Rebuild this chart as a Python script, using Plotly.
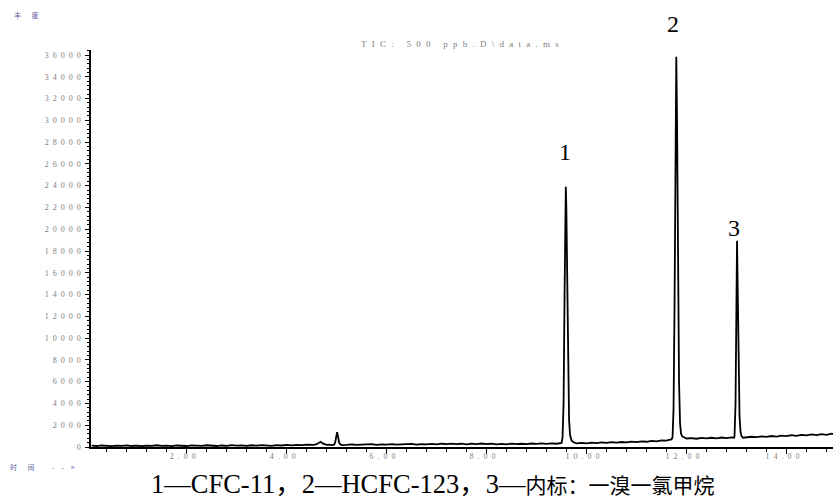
import plotly.graph_objects as go

# ---- data (time in min, abundance) ----
base_a_t = [0.1, 0.2, 0.3, 0.4, 0.5, 0.6, 0.7, 0.8, 0.9, 1.0, 1.1, 1.2, 1.3, 1.4, 1.5,
            1.6, 1.7, 1.8, 1.9, 2.0, 2.1, 2.2, 2.3, 2.4, 2.5, 2.6, 2.7, 2.8, 2.9, 3.0,
            3.1, 3.2, 3.3, 3.4, 3.5, 3.6, 3.7, 3.8, 3.9, 4.0, 4.1, 4.2, 4.3, 4.4, 4.5]
base_a_y = [120, 90, 140, 110, 80, 130, 100, 150, 90, 120, 70, 130, 110, 160, 100,
            120, 80, 140, 110, 90, 150, 120, 100, 160, 130, 90, 140, 110, 170, 120,
            150, 100, 160, 130, 180, 140, 110, 170, 140, 190, 150, 200, 170, 220, 180]

small_t = [4.55, 4.6, 4.65, 4.68, 4.72, 4.76, 4.8, 4.85, 4.9, 4.95, 4.97, 4.99, 5.01,
           5.03, 5.05, 5.08, 5.12]
small_y = [200, 260, 420, 480, 330, 230, 190, 210, 180, 220, 400, 900, 1350,
           900, 380, 220, 180]

base_b_t = [5.2, 5.3, 5.4, 5.5, 5.6, 5.7, 5.8, 5.9, 6.0, 6.1, 6.2, 6.3, 6.4, 6.5, 6.6,
            6.7, 6.8, 6.9, 7.0, 7.1, 7.2, 7.3, 7.4, 7.5, 7.6, 7.7, 7.8, 7.9, 8.0, 8.1,
            8.2, 8.3, 8.4, 8.5, 8.6, 8.7, 8.8, 8.9, 9.0, 9.1, 9.2, 9.3, 9.4, 9.45]
base_b_y = [200, 240, 190, 230, 210, 260, 200, 250, 220, 270, 210, 250, 230, 280, 220,
            270, 240, 290, 250, 300, 260, 310, 270, 300, 250, 310, 270, 320, 260, 300,
            240, 290, 250, 310, 270, 300, 260, 320, 280, 330, 290, 340, 300, 330]

peak1_t = [9.5, 9.52, 9.54, 9.56, 9.575, 9.585, 9.595, 9.61, 9.63, 9.65, 9.67, 9.7, 9.73]
peak1_y = [380, 900, 4000, 14000, 22500, 23900, 22000, 15000, 7000, 2500, 1100, 600, 450]

base_c_t = [9.76, 9.8, 9.9, 10.0, 10.1, 10.2, 10.3, 10.4, 10.5, 10.6, 10.7, 10.8, 10.9,
            11.0, 11.1, 11.2, 11.3, 11.4, 11.5, 11.6, 11.65, 11.7]
base_c_y = [380, 330, 380, 340, 400, 360, 420, 380, 440, 400, 460, 420, 490,
            450, 520, 480, 560, 520, 600, 580, 650, 700]

peak2_t = [11.72, 11.74, 11.76, 11.78, 11.795, 11.81, 11.83, 11.85, 11.87, 11.89, 11.92]
peak2_y = [900, 3500, 13000, 28000, 35850, 30000, 16000, 6000, 2200, 1200, 950]

base_d_t = [11.95, 12.0, 12.1, 12.2, 12.3, 12.4, 12.5, 12.6, 12.7, 12.8, 12.9, 12.95]
base_d_y = [900, 780, 820, 760, 830, 790, 850, 800, 870, 820, 880, 850]

peak3_t = [12.96, 12.98, 13.0, 13.01, 13.025, 13.04, 13.06, 13.08, 13.1, 13.13]
peak3_y = [1000, 4000, 14000, 18950, 14000, 7000, 2800, 1400, 1000, 850]

base_e_t = [13.2, 13.3, 13.4, 13.5, 13.6, 13.7, 13.8, 13.9, 14.0, 14.1, 14.2, 14.3,
            14.4, 14.5, 14.6, 14.7, 14.8, 14.9, 14.95]
base_e_y = [880, 940, 900, 980, 930, 1010, 960, 1050, 1000, 1090, 1020, 1120,
            1060, 1150, 1090, 1180, 1120, 1230, 1180]

x_tick_vals = [2, 4, 6, 8, 10, 12, 14]
x_tick_labels = ["2.00", "4.00", "6.00", "8.00", "10.00", "12.00", "14.00"]
y_tick_vals = [0, 2000, 4000, 6000, 8000, 10000, 12000, 14000, 16000, 18000, 20000,
               22000, 24000, 26000, 28000, 30000, 32000, 34000, 36000]

peak_labels = ["1", "2", "3"]
peak_label_t = [9.57, 11.73, 12.95]
peak_label_y = [27090, 38850, 20110]

title_raw = "TIC: 500 ppb.D\\data.ms"
y_name = ["丰", "度"]
x_name = ["时", "间", "-", "-", ">"]
caption_latin = "1—CFC-11，2—HCFC-123，3—"
caption_cjk = "内标：一溴一氯甲烷"

Y_MAX = 36460
SP = "\u2002"  # letter spacing used by the instrument printout


def spaced(s, sep=SP):
    return sep.join("\u00a0" if c == " " else c for c in s)


times = base_a_t + small_t + base_b_t + peak1_t + base_c_t + peak2_t + base_d_t + peak3_t + base_e_t
vals = base_a_y + small_y + base_b_y + peak1_y + base_c_y + peak2_y + base_d_y + peak3_y + base_e_y

fig = go.Figure()
fig.add_trace(go.Scatter(x=times, y=vals, mode="lines",
                         line=dict(color="black", width=1.8), hoverinfo="skip",
                         showlegend=False))

for lab, t, y in zip(peak_labels, peak_label_t, peak_label_y):
    fig.add_annotation(x=t, xref="x", yref="paper", y=y / Y_MAX, yanchor="middle",
                       text=lab, showarrow=False,
                       font=dict(family="Liberation Serif", size=24, color="black"))

serif = "Liberation Serif"
grey = "#808080"
blue = "#5a5aa0"
fig.add_annotation(xref="paper", yref="paper", x=0.497, y=1.0, yshift=6, yanchor="middle",
                   text=spaced(title_raw, SP + "\u200a"), showarrow=False,
                   font=dict(family=serif, size=9, color=grey))
fig.add_annotation(xref="paper", yref="paper", x=-0.1065, y=1.0, yshift=35,
                   xanchor="left", yanchor="middle",
                   text=(SP * 3).join(y_name), showarrow=False,
                   font=dict(family="Noto Sans CJK SC", size=7, color=blue))
fig.add_annotation(xref="paper", yref="paper", x=-0.1119, y=0.0, yshift=-20,
                   xanchor="left", yanchor="middle",
                   text=x_name[0] + SP * 3 + x_name[1] + SP * 5 + (SP * 2).join(x_name[2:]),
                   showarrow=False,
                   font=dict(family="Noto Sans CJK SC", size=7, color=blue))
fig.add_annotation(xref="paper", yref="paper", x=0.4596, y=0.0, yshift=-37, yanchor="middle",
                   text=("<span style='font-size:26.5px'>" + caption_latin + "</span>"
                         + "<span style='font-size:21px'>" + caption_cjk + "</span>"),
                   showarrow=False,
                   font=dict(family="Liberation Serif, Noto Sans CJK SC", size=21, color="black"))

fig.update_layout(
    width=833, height=499,
    margin=dict(l=91, r=0, t=50, b=52),
    paper_bgcolor="white", plot_bgcolor="white",
    xaxis=dict(range=[0.086, 14.93], showgrid=False, zeroline=False,
               showline=True, linecolor="black", linewidth=1.5,
               tickmode="array", tickvals=x_tick_vals,
               ticktext=[spaced(s) for s in x_tick_labels],
               ticks="outside", ticklen=5, tickcolor="black", tickwidth=1,
               ticklabelstandoff=-4, ticklabelshift=-4,
               tickfont=dict(family=serif, size=8, color=grey),
               minor=dict(dtick=0.4, tick0=0, ticks="outside", ticklen=3,
                          tickcolor="black", showgrid=False)),
    yaxis=dict(range=[0, Y_MAX], showgrid=False, zeroline=False,
               showline=True, linecolor="black", linewidth=1.5,
               tickmode="array", tickvals=y_tick_vals,
               ticktext=[spaced(str(v)) for v in y_tick_vals],
               ticks="outside", ticklen=4, tickcolor="black", tickwidth=1,
               ticklabelstandoff=3,
               tickfont=dict(family=serif, size=8, color=grey),
               minor=dict(dtick=400, tick0=0, ticks="outside", ticklen=2,
                          tickcolor="black", showgrid=False)),
)

fig.write_html("out.html", config={"displayModeBar": False},
               post_script="document.body.style.margin='0';document.body.style.overflow='hidden';")
